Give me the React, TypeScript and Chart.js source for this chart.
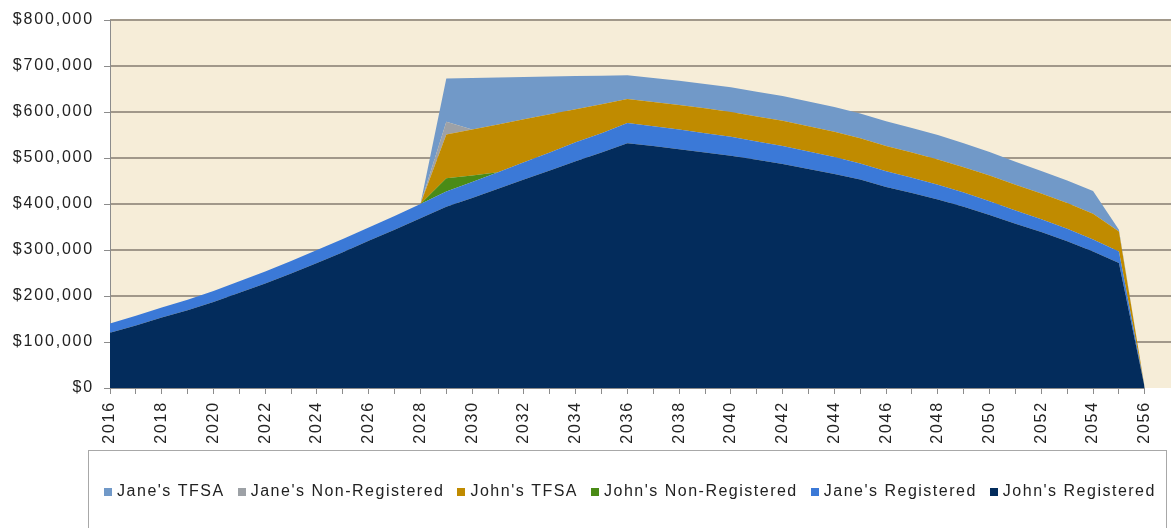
import React, { useEffect, useRef } from 'react';
import { Chart, registerables } from 'chart.js';

Chart.register(...registerables);

// Retirement savings projection, stacked by account (dollars at each year end)
const years = [
  '2016', '2017', '2018', '2019', '2020', '2021', '2022', '2023', '2024', '2025',
  '2026', '2027', '2028', '2029', '2030', '2031', '2032', '2033', '2034', '2035',
  '2036', '2037', '2038', '2039', '2040', '2041', '2042', '2043', '2044', '2045',
  '2046', '2047', '2048', '2049', '2050', '2051', '2052', '2053', '2054', '2055',
  '2056',
];

const johnsRegistered = [
  120000, 136000, 153000, 169000, 187000, 207000, 227000, 249000, 272000, 295000,
  320000, 344000, 369000, 394000, 413000, 433000, 453000, 473000, 493000, 512000,
  532000, 526000, 519000, 512000, 505000, 496000, 487000, 476000, 465000, 453000,
  437000, 424000, 410000, 394000, 376000, 357000, 339000, 319000, 297000, 272000,
  0,
];

const janesRegistered = [
  20000, 21000, 22000, 23000, 24000, 25000, 26000, 27000, 28000, 29000,
  29000, 30000, 31000, 33000, 35000, 36000, 38000, 39000, 41000, 42000,
  44000, 43000, 43000, 42000, 41000, 40000, 39000, 38000, 37000, 35000,
  34000, 33000, 32000, 31000, 30000, 29000, 28000, 27000, 26000, 25000,
  0,
];

const johnsNonRegistered = [
  0, 0, 0, 0, 0, 0, 0, 0, 0, 0,
  0, 0, 0, 29000, 14000, 0, 0, 0, 0, 0,
  0, 0, 0, 0, 0, 0, 0, 0, 0, 0,
  0, 0, 0, 0, 0, 0, 0, 0, 0, 0,
  0,
];

const johnsTfsa = [
  0, 0, 0, 0, 0, 0, 0, 0, 0, 0,
  0, 0, 0, 95000, 100000, 104000, 93000, 83000, 72000, 63000,
  52000, 53000, 53000, 54000, 54000, 54000, 55000, 55000, 55000, 55000,
  55000, 55000, 55000, 55000, 56000, 56000, 56000, 56000, 56000, 43000,
  0,
];

const janesNonRegistered = [
  0, 0, 0, 0, 0, 0, 0, 0, 0, 0,
  0, 0, 0, 28000, 0, 0, 0, 0, 0, 0,
  0, 0, 0, 0, 0, 0, 0, 0, 0, 0,
  0, 0, 0, 0, 0, 0, 0, 0, 0, 0,
  0,
];

const janesTfsa = [
  0, 0, 0, 0, 0, 0, 0, 0, 0, 0,
  0, 0, 0, 94000, 112000, 102000, 92000, 82000, 72000, 62000,
  52000, 52000, 53000, 53000, 54000, 54000, 54000, 54000, 54000, 54000,
  54000, 53000, 53000, 52000, 51000, 50000, 49000, 49000, 49000, 4000,
  0,
];

const FONT = '"Liberation Sans", Arial, Helvetica, sans-serif';
const SPACING = '1.8px';
const LEGEND_SPACING = '1.5px';
const TEXT = '#222222';
const AXIS = '#8c8c8c';
const BEIGE = '#f6edd8';
const GRID = '#a1988a';

// bottom of the stack first
const series = [
  { label: "John's Registered", data: johnsRegistered, color: '#032c5c' },
  { label: "Jane's Registered", data: janesRegistered, color: '#3b79d7' },
  { label: "John's Non-Registered", data: johnsNonRegistered, color: '#4a8b16' },
  { label: "John's TFSA", data: johnsTfsa, color: '#c08b00' },
  { label: "Jane's Non-Registered", data: janesNonRegistered, color: '#9da1a6' },
  { label: "Jane's TFSA", data: janesTfsa, color: '#7199c8' },
];

// wider tracking for all canvas text
const textSpacing = {
  id: 'textSpacing',
  beforeUpdate(chart: any) {
    chart.ctx.letterSpacing = SPACING;
  },
  beforeDraw(chart: any) {
    chart.ctx.letterSpacing = SPACING;
  },
};

// beige plot fill and horizontal rules running to the right edge of the canvas
const plotBackdrop = {
  id: 'plotBackdrop',
  beforeDraw(chart: any) {
    const { ctx, chartArea, scales } = chart;
    ctx.save();
    ctx.fillStyle = BEIGE;
    ctx.fillRect(chartArea.left, chartArea.top, chart.width - chartArea.left, chartArea.bottom - chartArea.top);
    ctx.strokeStyle = GRID;
    ctx.lineWidth = 2;
    scales.y.ticks.forEach((t: any) => {
      if (t.value === 0) return;
      const y = Math.round(scales.y.getPixelForValue(t.value));
      ctx.beginPath();
      ctx.moveTo(chartArea.left, y);
      ctx.lineTo(chart.width, y);
      ctx.stroke();
    });
    ctx.restore();
  },
};

// framed legend under the axis, listing the top of the stack first
const boxedLegend = {
  id: 'boxedLegend',
  afterDraw(chart: any) {
    const { ctx, chartArea } = chart;
    const top = chartArea.bottom + 62;
    const left = chartArea.left - 22;
    const right = chart.width - 5;
    ctx.save();
    ctx.fillStyle = '#ffffff';
    ctx.fillRect(left, top, right - left, chart.height - top + 10);
    ctx.strokeStyle = '#a8a8a8';
    ctx.lineWidth = 1;
    ctx.strokeRect(left + 0.5, top + 0.5, right - left, chart.height - top + 10);

    ctx.font = `16px ${FONT}`;
    ctx.letterSpacing = LEGEND_SPACING;
    ctx.textBaseline = 'middle';
    ctx.textAlign = 'left';
    const items = chart.data.datasets.slice().reverse();
    const box = 8;
    const gapBox = 5;
    const gapItem = 13;
    const widths = items.map((d: any) => box + gapBox + ctx.measureText(d.label).width);
    const total = widths.reduce((a: number, b: number) => a + b, 0) + gapItem * (items.length - 1);
    let x = (left + right) / 2 - total / 2 + 3;
    const cy = top + 42;
    items.forEach((d: any, i: number) => {
      ctx.fillStyle = d.backgroundColor;
      ctx.fillRect(Math.round(x), Math.round(cy - box / 2), box, box);
      ctx.fillStyle = TEXT;
      ctx.fillText(d.label, x + box + gapBox, cy);
      x += widths[i] + gapItem;
    });
    ctx.restore();
  },
};

export default function App() {
  const canvasRef = useRef<HTMLCanvasElement | null>(null);

  useEffect(() => {
    if (!canvasRef.current) return;
    const chart = new Chart(canvasRef.current, {
      type: 'line',
      data: {
        labels: years,
        datasets: series.map((s, i) => ({
          label: s.label,
          data: s.data,
          backgroundColor: s.color,
          borderColor: s.color,
          borderWidth: 0,
          pointRadius: 0,
          pointHoverRadius: 0,
          tension: 0,
          fill: i === 0 ? 'origin' : '-1',
        })),
      },
      options: {
        responsive: false,
        animation: false,
        events: [],
        layout: { padding: { top: 20, right: 15, bottom: 80, left: 0 } },
        plugins: {
          legend: { display: false },
          tooltip: { enabled: false },
        },
        scales: {
          x: {
            type: 'category',
            offset: false,
            afterFit: (scale: any) => {
              scale.height = 60;
            },
            grid: {
              display: true,
              drawOnChartArea: false,
              drawTicks: true,
              tickLength: 6,
              color: AXIS,
              lineWidth: 1,
            },
            border: { display: true, color: AXIS, width: 1 },
            ticks: {
              autoSkip: false,
              minRotation: 90,
              maxRotation: 90,
              padding: 7,
              color: TEXT,
              font: { family: FONT, size: 16 },
              callback: function (this: any, value: any) {
                const label = this.getLabelForValue(value);
                return Number(label) % 2 === 0 ? label : '';
              },
            },
          },
          y: {
            stacked: true,
            min: 0,
            max: 800000,
            afterFit: (scale: any) => {
              scale.width = 110;
            },
            grid: {
              display: true,
              drawOnChartArea: false,
              drawTicks: true,
              tickLength: 6,
              color: AXIS,
              lineWidth: 1,
            },
            border: { display: true, color: AXIS, width: 1 },
            ticks: {
              stepSize: 100000,
              padding: 10,
              color: TEXT,
              font: { family: FONT, size: 16 },
              callback: (v: any) => '$' + Number(v).toLocaleString('en-US'),
            },
          },
        },
      },
      plugins: [textSpacing, plotBackdrop, boxedLegend],
    });
    return () => chart.destroy();
  }, []);

  return (
    <div style={{ position: 'absolute', left: 0, top: 0, width: 1171, height: 528, background: '#ffffff', overflow: 'hidden' }}>
      <canvas ref={canvasRef} width={1171} height={528} style={{ display: 'block' }} />
    </div>
  );
}
